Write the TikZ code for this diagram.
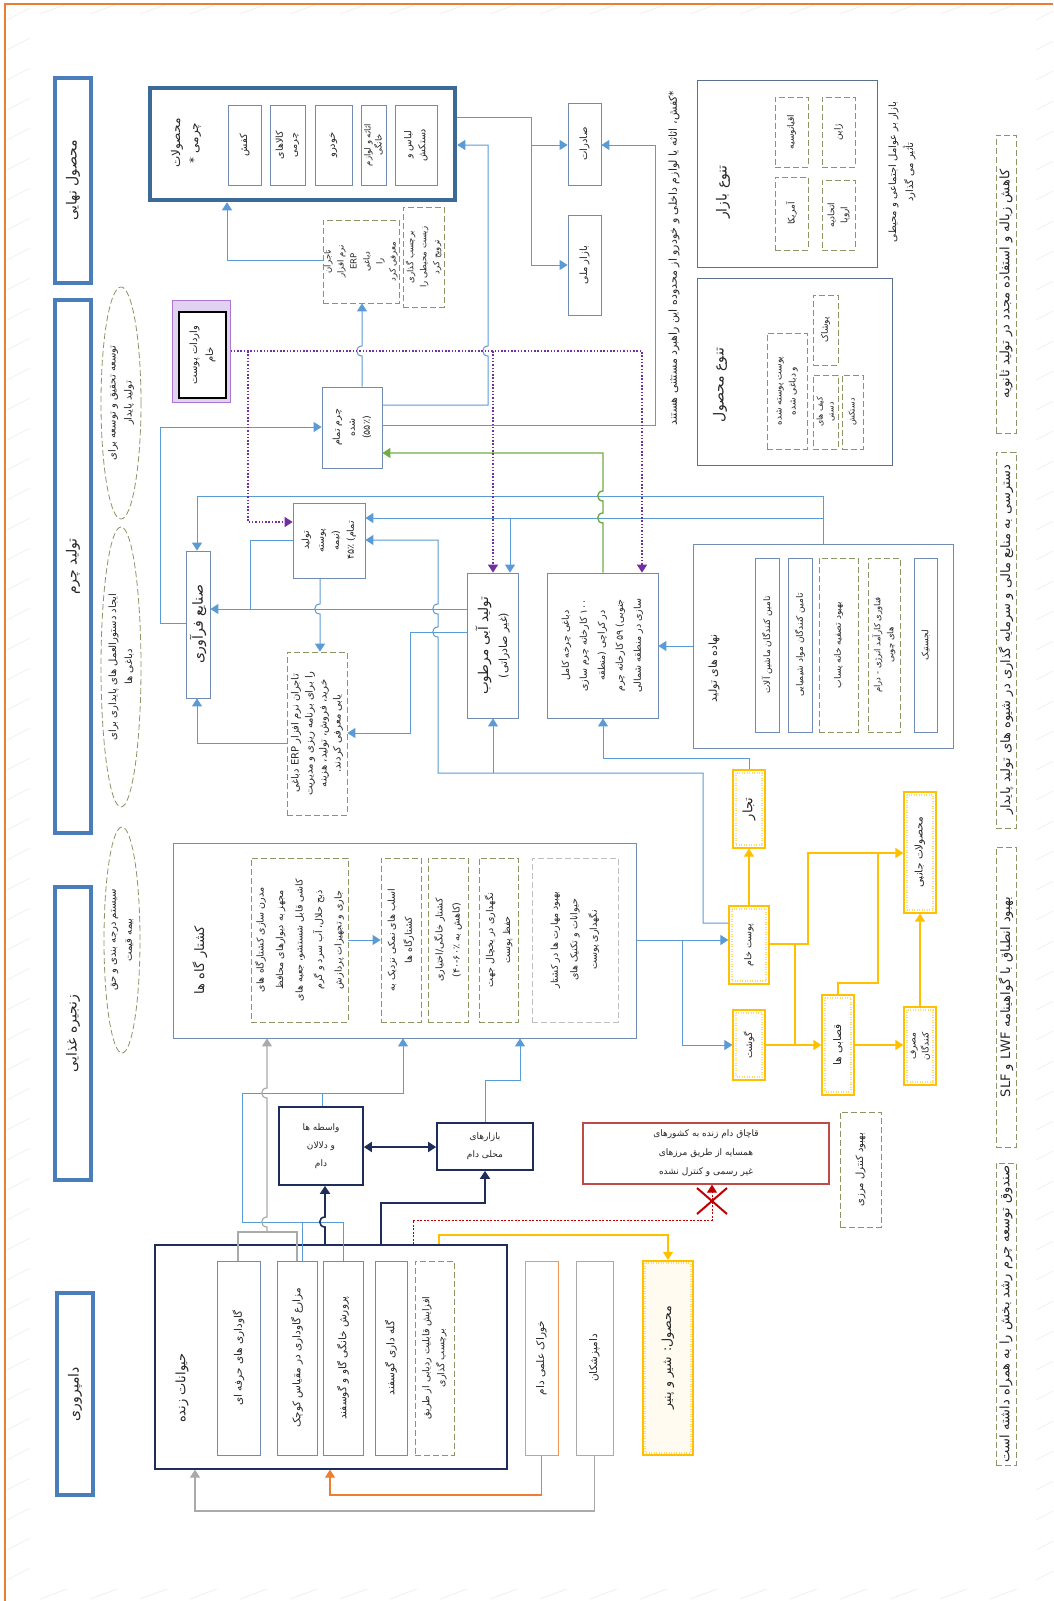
\documentclass[tikz,border=0pt]{standalone}
\usepackage{fontspec}
\usetikzlibrary{arrows.meta,shapes.geometric}
\TeXXeTstate=1
\newfontfamily\fa[Script=Arabic]{DejaVu Sans}
\newcommand\Rt[1]{\beginR #1\endR}
\newcommand\fsz[2]{\fa\fontsize{#1}{#2}\selectfont}
\definecolor{lnc}{RGB}{91,155,213}
\definecolor{bxc}{RGB}{112,140,178}
\definecolor{hdr}{RGB}{74,126,187}
\definecolor{pcc}{RGB}{61,105,150}
\definecolor{dsh}{RGB}{140,150,100}
\definecolor{nav}{RGB}{31,45,90}
\definecolor{yel}{RGB}{255,192,0}
\definecolor{pur}{RGB}{112,48,160}
\definecolor{grn}{RGB}{112,173,71}
\definecolor{org}{RGB}{237,125,49}
\definecolor{gry}{RGB}{170,170,170}
\definecolor{rdc}{RGB}{192,0,0}
\definecolor{rbx}{RGB}{190,75,72}
\definecolor{frm}{RGB}{237,125,49}
\tikzset{
 tri/.tip={Triangle[length=8pt,width=10pt]},
 txt/.style={rotate=90,align=center,inner sep=0pt,font=\fsz{9}{12},text=black!85},
 sb/.style={draw=bxc,line width=0.8pt},
 cb/.style={draw=bxc!80!black,line width=1pt},
 db/.style={draw=dsh,line width=0.8pt,dash pattern=on 6pt off 3pt},
 lb/.style={draw=black!25,line width=0.8pt,dash pattern=on 6pt off 3pt},
 hd/.style={draw=hdr,line width=3.5pt},
 pcb/.style={draw=pcc,line width=4.5pt},
 yb/.style={draw=yel,line width=1.2pt},
 nb/.style={draw=nav,line width=1.3pt},
 el/.style={ellipse,draw=dsh,line width=0.8pt,dash pattern=on 6pt off 3pt,inner sep=0pt},
 bl/.style={draw=lnc,line width=1pt},
 ba/.style={bl,-tri},
 yl/.style={draw=yel,line width=1.2pt},
 ya/.style={yl,-tri},
 pa/.style={draw=pur,line width=1.5pt,dash pattern=on 1.5pt off 1.8pt,-tri},
 gl/.style={draw=gry,line width=1.2pt},
 ga/.style={gl,-tri},
 oa/.style={draw=org,line width=1.2pt,-tri},
 na/.style={draw=nav,line width=1.6pt,-tri},
 nd/.style={draw=nav,line width=1.6pt,tri-tri},
 gna/.style={draw=grn,line width=1.4pt,-tri},
 ra/.style={draw=rdc,line width=1pt,dash pattern=on 2pt off 1.5pt,-tri},
 bgl/.style={draw=black!7,line width=0.6pt},
}
% box: style, name, x1, y1, x2, y2, text style, text
\newcommand\bx[8]{\node[#1,minimum width={(#5-#3)*1pt},minimum height={(#6-#4)*1pt},inner sep=0pt] (#2) at ({(#3+#5)/2},{(#4+#6)/2}) {};\node[txt,#7] (#2t) at (#2.center) {#8};}
\newcommand\ybx[8]{\node[yb,#1,minimum width={(#5-#3)*1pt},minimum height={(#6-#4)*1pt},inner sep=0pt] (#2) at ({(#3+#5)/2},{(#4+#6)/2}) {};
\draw[yel!55,line width=2pt,dash pattern=on 1pt off 1.5pt] ([shift={(3.5pt,-3.5pt)}]#2.north west) rectangle ([shift={(-3.5pt,3.5pt)}]#2.south east);
\node[txt,#7] (#2t) at (#2.center) {#8};}
\begin{document}
\begin{tikzpicture}[x=1pt,y=-1pt]
\useasboundingbox (0,0) rectangle (1053,1601);
\fill[white] (0,0) rectangle (1053,1601);
% faint background strokes
\foreach \yy in {20,50,...,1600} {\draw[bgl] (7,\yy) -- (30,\yy-12); \draw[bgl] (1036,\yy) -- (1053,\yy-9);}
\foreach \xx in {40,90,...,1000} {\draw[bgl] (\xx,14) -- (\xx+27,4); \draw[bgl] (\xx,1599) -- (\xx+27,1589);}
\draw[frm,line width=1.5pt] (5,1601) -- (5,4) -- (1053,4);

% headers
\bx{hd}{h1}{55}{78}{91}{283}{font=\fsz{14}{16}}{\Rt{محصول نهایی}}
\bx{hd}{h2}{55}{300}{91}{833}{font=\fsz{14}{16}}{\Rt{تولید چرم}}
\bx{hd}{h3}{55}{887}{91}{1180}{font=\fsz{14}{16}}{\Rt{زنجیره غذایی}}
\bx{hd}{h4}{57}{1293}{93}{1495}{font=\fsz{14}{16}}{\Rt{دامپروری}}

% ellipses
\node[el,minimum width=40pt,minimum height=232pt] (e1) at (121,403) {};
\node[txt,font=\fsz{10}{16}] (e1t) at (e1.center) {\Rt{توسعه تحقیق و توسعه برای}\\\Rt{تولید پایدار}};
\node[el,minimum width=40pt,minimum height=280pt] (e2) at (121,667) {};
\node[txt,font=\fsz{10}{16}] (e2t) at (e2.center) {\Rt{ایجاد دستورالعمل های پایداری برای}\\\Rt{دباغی ها}};
\node[el,minimum width=36pt,minimum height=226pt] (e3) at (122,940) {};
\node[txt,font=\fsz{10}{16}] (e3t) at (e3.center) {\Rt{سیستم درجه بندی و حق}\\\Rt{بیمه قیمت}};

% leather products
\bx{pcb}{pc}{150}{88}{455}{200}{}{}
\node[txt,font=\fsz{12}{18}] (pchead) at (186,143) {\Rt{محصولات}\\\Rt{چرمی *}};
\bx{sb}{kafsh}{228}{105}{261}{185}{font=\fsz{10}{13}}{\Rt{کفش}}
\bx{sb}{kala}{270}{105}{305}{185}{font=\fsz{9.5}{14}}{\Rt{کالاهای}\\\Rt{چرمی}}
\bx{sb}{khodro}{315}{105}{352}{185}{font=\fsz{10}{13}}{\Rt{خودرو}}
\bx{sb}{asase}{361}{105}{386}{185}{font=\fsz{8.5}{11}}{\Rt{اثاثه و لوازم}\\\Rt{خانگی}}
\bx{sb}{lebas}{395}{105}{437}{185}{font=\fsz{9.5}{14}}{\Rt{لباس و}\\\Rt{دستکش}}

\bx{db}{erp1}{323}{220}{399}{303}{font=\fsz{8.5}{13}}{\Rt{تاجران}\\\Rt{نرم افزار}\\ERP\\\Rt{دباغی}\\\Rt{را}\\\Rt{معرفی کرد}}
\bx{db}{eco}{403}{207}{444}{307}{font=\fsz{8.5}{13}}{\Rt{برچسب گذاری}\\\Rt{زیست محیطی را}\\\Rt{ترویج کرد}}

\bx{sb}{sader}{568}{103}{601}{185}{font=\fsz{10}{13}}{\Rt{صادرات}}
\bx{sb}{melli}{568}{215}{601}{315}{font=\fsz{10}{13}}{\Rt{بازار ملی}}
\node[txt,font=\fsz{11}{13}] (note) at (674,258) {\Rt{*کفش، اثاثه یا لوازم داخلی و خودرو از محدوده این راهبرد مستثنی هستند}};

% market diversity
\bx{cb}{bazar}{697}{80}{877}{267}{}{}
\node[txt,font=\fsz{14}{16}] (bazarh) at (723,192) {\Rt{تنوع بازار}};
\bx{db}{oqi}{775}{97}{808}{167}{}{\Rt{اقیانوسیه}}
\bx{db}{zhapon}{822}{97}{855}{167}{}{\Rt{ژاپن}}
\bx{db}{amrika}{775}{177}{808}{250}{}{\Rt{آمریکا}}
\bx{db}{eu}{822}{180}{855}{250}{font=\fsz{9}{13}}{\Rt{اتحادیه}\\\Rt{اروپا}}
\node[txt,font=\fsz{10}{17}] (bazarn) at (902,172) {\Rt{بازار بر عوامل اجتماعی و محیطی}\\\Rt{تأثیر می گذارد}};

% product diversity
\bx{cb}{tanavo}{697}{278}{892}{465}{}{}
\node[txt,font=\fsz{14}{16}] (tanavoh) at (720,385) {\Rt{تنوع محصول}};
\bx{db}{pust}{767}{333}{807}{449}{font=\fsz{9}{14}}{\Rt{پوست پوسته شده}\\\Rt{و دباغی شده}}
\bx{db}{pushak}{813}{295}{838}{365}{}{\Rt{پوشاک}}
\bx{db}{kif}{813}{375}{838}{449}{font=\fsz{8}{11}}{\Rt{کیف های}\\\Rt{دستی}}
\bx{db}{dast}{842}{375}{863}{449}{font=\fsz{8}{11}}{\Rt{دستکش}}

% imports
\bx{draw={rgb,255:red,170;green,120;blue,210},fill={rgb,255:red,226;green,210;blue,242},line width=1pt}{impo}{172}{300}{230}{402}{}{}
\bx{draw=black,fill=white,line width=2pt}{imp}{179}{312}{226}{398}{font=\fsz{10}{16}}{\Rt{واردات پوست}\\\Rt{خام}}

% leather production
\bx{sb}{tam}{322}{387}{382}{468}{font=\fsz{9.5}{15}}{\Rt{چرم تمام}\\\Rt{شده}\\\Rt{(۵۵٪)}}
\bx{sb}{pos}{293}{503}{365}{578}{font=\fsz{9.5}{15}}{\Rt{تولید}\\\Rt{پوسته}\\\Rt{(نیمه}\\\Rt{تمام) ۴۵٪}}
\bx{sb}{sanaye}{186}{551}{210}{698}{font=\fsz{14}{16}}{\Rt{صنایع فرآوری}}
\bx{db}{erp2}{287}{652}{347}{815}{font=\fsz{10}{14}}{\Rt{تاجران نرم افزار ERP دباغی}\\\Rt{را برای برنامه ریزی و مدیریت}\\\Rt{خرید، فروش، تولید، هزینه}\\\Rt{یابی معرفی کردند.}}
\bx{sb}{abi}{467}{573}{518}{718}{font=\fsz{11}{19}}{{\fsz{13.5}{19}\Rt{تولید آبی مرطوب}}\\\Rt{(غیر صادراتی)}}
\bx{sb}{charkhe}{547}{573}{658}{718}{font=\fsz{9.5}{18}}{\Rt{دباغی چرخه کامل}\\\Rt{۱۰۰ کارخانه چرم سازی}\\\Rt{در کراچی (منطقه}\\\Rt{جنوبی) ۵۹ کارخانه چرم}\\\Rt{سازی در منطقه شمالی}}

% production inputs
\bx{sb}{nahade}{693}{544}{953}{748}{}{}
\node[txt,font=\fsz{11}{13}] (nahadeh) at (714,668) {\Rt{نهاده های تولید}};
\bx{sb}{mashin}{755}{558}{779}{732}{}{\Rt{تامین کنندگان ماشین آلات}}
\bx{sb}{mavad}{788}{558}{812}{732}{}{\Rt{تامین کنندگان مواد شیمیایی}}
\bx{db}{tasfie}{819}{558}{858}{732}{}{\Rt{بهبود تصفیه خانه پساب}}
\bx{db}{fanavari}{868}{558}{900}{732}{font=\fsz{8.5}{13}}{\Rt{فناوری کارآمد انرژی - درام}\\\Rt{های چوبی}}
\bx{sb}{lojestik}{914}{558}{937}{732}{}{\Rt{لجستیک}}

% slaughterhouses
\bx{sb}{kosh}{173}{843}{636}{1038}{}{}
\node[txt,font=\fsz{13}{15}] (koshh) at (200,960) {\Rt{کشتار گاه ها}};
\bx{db}{modern}{251}{858}{348}{1022}{font=\fsz{9.5}{19.5}}{\Rt{مدرن سازی کشتارگاه های}\\\Rt{مجهز به دیوارهای محافظ}\\\Rt{کاشی قابل شستشو، جعبه های}\\\Rt{ذبح حلال، آب سرد و گرم}\\\Rt{جاری و تجهیزات پردازش}}
\bx{db}{salt}{381}{858}{421}{1022}{font=\fsz{9.5}{17}}{\Rt{اسلب های نمکی نزدیک به}\\\Rt{کشتارگاه ها}}
\bx{db}{khanegi}{428}{858}{468}{1022}{font=\fsz{9.5}{17}}{\Rt{کشتار خانگی/اختیاری}\\\Rt{(کاهش به ۴۰-۶۰٪)}}
\bx{db}{yakhchal}{479}{858}{518}{1022}{font=\fsz{9.5}{17}}{\Rt{نگهداری در یخچال جهت}\\\Rt{حفظ پوست}}
\bx{lb}{mahart}{532}{858}{618}{1022}{font=\fsz{9.5}{19.5}}{\Rt{بهبود مهارت ها در کشتار}\\\Rt{حیوانات و تکنیک های}\\\Rt{نگهداری پوست}}

% food chain (yellow)
\ybx{}{pkh}{729}{906}{769}{984}{font=\fsz{9.5}{12}}{\Rt{پوست خام}}
\ybx{}{gusht}{733}{1010}{765}{1080}{font=\fsz{9.5}{12}}{\Rt{گوشت}}
\ybx{}{tojar}{733}{770}{765}{848}{font=\fsz{13}{15}}{\Rt{تجار}}
\ybx{}{qasab}{822}{995}{854}{1095}{font=\fsz{10.5}{12}}{\Rt{قصابی ها}}
\ybx{}{masraf}{904}{1007}{936}{1085}{font=\fsz{9}{13}}{\Rt{مصرف}\\\Rt{کنندگان}}
\ybx{}{janebi}{904}{792}{936}{913}{font=\fsz{10.5}{12}}{\Rt{محصولات جانبی}}

% intermediaries
\bx{nb,line width=1.6pt}{boxA}{279}{1107}{363}{1185}{rotate=-90,font=\fsz{9}{18}}{\Rt{واسطه ها}\\\Rt{و دلالان}\\\Rt{دام}}
\bx{nb,line width=1.6pt}{boxB}{437}{1123}{533}{1170}{rotate=-90,font=\fsz{9}{18}}{\Rt{بازارهای}\\\Rt{محلی دام}}
\bx{draw=rbx,line width=1.3pt}{redb}{583}{1123}{829}{1184}{rotate=-90,font=\fsz{9}{19}}{\Rt{قاچاق دام زنده به کشورهای}\\\Rt{همسایه از طریق مرزهای}\\\Rt{غیر رسمی و کنترل نشده}}
\bx{db}{marz}{840}{1112}{881}{1227}{font=\fsz{10}{12}}{\Rt{بهبود کنترل مرزی}}

% livestock
\bx{nb}{hey}{155}{1245}{507}{1469}{}{}
\node[txt,font=\fsz{13}{15}] (heyh) at (182,1388) {\Rt{حیوانات زنده}};
\bx{sb}{herfe}{217}{1261}{260}{1455}{font=\fsz{10.5}{13}}{\Rt{گاوداری های حرفه ای}}
\bx{sb}{mazare}{277}{1261}{317}{1455}{font=\fsz{10.5}{13}}{\Rt{مزارع گاوداری در مقیاس کوچک}}
\bx{sb}{parv}{323}{1261}{363}{1455}{font=\fsz{10.5}{13}}{\Rt{پرورش خانگی گاو و گوسفند}}
\bx{sb}{gale}{375}{1261}{407}{1455}{font=\fsz{10.5}{13}}{\Rt{گله داری گوسفند}}
\bx{db}{radyabi}{415}{1261}{454}{1455}{font=\fsz{9.5}{15}}{\Rt{افزایش قابلیت ردیابی از طریق}\\\Rt{برچسب گذاری}}
\bx{draw=org!80,line width=1pt}{khorak}{525}{1261}{558}{1455}{font=\fsz{10.5}{13}}{\Rt{خوراک علمی دام}}
\bx{draw=gry,line width=1pt}{dampez}{576}{1261}{613}{1455}{font=\fsz{10.5}{13}}{\Rt{دامپزشکان}}
\ybx{line width=2.2pt,fill=yel!6}{shir}{643}{1261}{693}{1455}{font=\fsz{12.5}{14}}{\Rt{محصول: شیر و پنیر}}

% bottom strip
\bx{db}{b1}{996}{135}{1016}{433}{font=\fsz{13}{14}}{\Rt{کاهش زباله و استفاده مجدد در تولید ثانویه}}
\bx{db}{b2}{996}{452}{1016}{828}{font=\fsz{13}{14}}{\Rt{دسترسی به منابع مالی و سرمایه گذاری در شیوه های تولید پایدار}}
\bx{db}{b3}{996}{847}{1016}{1147}{font=\fsz{13}{14}}{\Rt{بهبود انطباق با گواهینامه LWF و SLF}}
\bx{db}{b4}{996}{1163}{1016}{1465}{font=\fsz{13}{14}}{\Rt{صندوق توسعه چرم رشد بخش را به همراه داشته است}}

% ---------- connectors ----------
\draw[ba] (erp1.west |- 0,260) -| (pc.south -| 227,0);
\draw[ba] (tam.north -| 362,0) -- (362,356) .. controls (355,356) and (355,346) .. (362,346) -- (erp1.south -| 362,0);
\draw[ba] (tam.east |- 0,405) -| (488,356) .. controls (481,356) and (481,346) .. (488,346) |- (pc.east |- 0,145);
\draw[ba] (tam.east |- 0,425) -| (655,145) -- (sader.east |- 0,145);
\draw[ba] (pc.east |- 0,117) -| (531,265) -- (melli.west |- 0,265);
\coordinate (jp) at (531,145);
\draw[ba] (jp) -- (sader.west |- jp);

\draw[ba] (sanaye.west |- 0,623) -| (160,427) -- (tam.west |- 0,427);
\draw[ba] (nahade.north -| 823,0) |- (197,496) -- (sanaye.north -| 197,0);
\draw[ba] (nahade.north -| 823,0) |- (pos.east |- 0,518);
\coordinate (jn) at (510,518);
\draw[ba] (jn) -- (abi.north -| jn);
\draw[bl] (pos.west |- 0,540) -| (250,609);
\draw[ba] (abi.west |- 0,609) -- (sanaye.east |- 0,609);
\draw[ba] (pos.south -| 320,0) -- (320,604) .. controls (313,604) and (313,614) .. (320,614) -- (erp2.north -| 320,0);
\draw[ba] (erp2.west |- 0,743) -| (sanaye.south -| 197,0);
\draw[ba] (abi.west |- 0,632) -| (410,733) -- (erp2.east |- 0,733);
\draw[ba] (pkh.west |- 0,923) -| (703,773) -- (438,773) -- (438,637) .. controls (431,637) and (431,627) .. (438,627) -- (438,614) .. controls (431,614) and (431,604) .. (438,604) |- (pos.east |- 0,540);
\coordinate (jk) at (493,773);
\draw[ba] (jk) -- (abi.south -| jk);
\draw[ba] (tojar.north) |- (603,758) -- (charkhe.south -| 603,0);
\draw[ba] (nahade.west |- 0,646) -- (charkhe.east |- 0,646);
\draw[gna] (charkhe.north -| 603,0) -- (603,523) .. controls (596,523) and (596,513) .. (603,513) -- (603,501) .. controls (596,501) and (596,491) .. (603,491) |- (tam.east |- 0,453);

% imports (purple dotted)
\draw[pa] (impo.east |- 0,351) -| (charkhe.north -| 642,0);
\coordinate (pj1) at (248,351);
\draw[pa] (pj1) |- (pos.west |- 0,522);
\coordinate (pj2) at (493,351);
\draw[pa] (pj2) -- (abi.north -| pj2);

% slaughterhouse outputs
\draw[ba] (kosh.east |- 0,940) -- (pkh.west |- 0,940);
\coordinate (jg) at (682,940);
\draw[ba] (jg) |- (gusht.west |- 0,1045);
\draw[ba] (modern.east |- 0,940) -- (salt.west |- 0,940);

% yellow chain
\draw[ya] (pkh.north -| 749,0) -- (tojar.south -| 749,0);
\draw[ya] (gusht.east |- 0,1045) -- (qasab.west |- 0,1045);
\draw[ya] (pkh.east |- 0,944) -| (808,853) -- (janebi.west |- 0,853);
\coordinate (jy1) at (795,944);
\coordinate (jy2) at (795,1045);
\draw[yl] (jy1) -- (jy2);
\draw[yl] (qasab.north -| 838,0) |- (878,983) -- (878,853);
\draw[ya] (qasab.east |- 0,1045) -- (masraf.west |- 0,1045);
\draw[ya] (masraf.north -| 920,0) -- (janebi.south -| 920,0);

% livestock network
\draw[bl] (mazare.north -| 302,0) -- (302,1222);
\draw[ba] (parv.north -| 343,0) |- (242,1222) |- (403,1093) -- (kosh.south -| 403,0);
\coordinate (ja) at (322,1093);
\draw[bl] (ja) -- (boxA.north -| ja);
\draw[gl] (herfe.north -| 238,0) |- (297,1232) -- (mazare.north -| 297,0);
\coordinate (gc) at (267,1232);
\draw[ga] (gc) -- (267,1227) .. controls (260,1227) and (260,1217) .. (267,1217) -- (267,1098) .. controls (260,1098) and (260,1088) .. (267,1088) -- (kosh.south -| 267,0);
\draw[na] (hey.north -| 325,0) -- (325,1227) .. controls (318,1227) and (318,1217) .. (325,1217) -- (boxA.south -| 325,0);
\draw[na] (hey.north -| 381,0) |- (485,1203) -- (boxB.south -| 485,0);
\draw[nd] (boxA.east |- 0,1147) -- (boxB.west |- 0,1147);
\draw[ba] (boxB.north -| 485,0) |- (520,1080) -- (kosh.south -| 520,0);
\draw[ra] (hey.north -| 413,0) |- (712,1220) -- (redb.south -| 712,0);
\draw[rdc,line width=2pt] (697,1188) -- (727,1214) (727,1188) -- (697,1214);
\draw[ya] (hey.north -| 439,0) |- (668,1235) -- (shir.north -| 668,0);
\draw[oa] (khorak.south) |- (330,1495) -- (hey.south -| 330,0);
\draw[ga] (dampez.south) |- (195,1511) -- (hey.south -| 195,0);
\end{tikzpicture}
\end{document}
